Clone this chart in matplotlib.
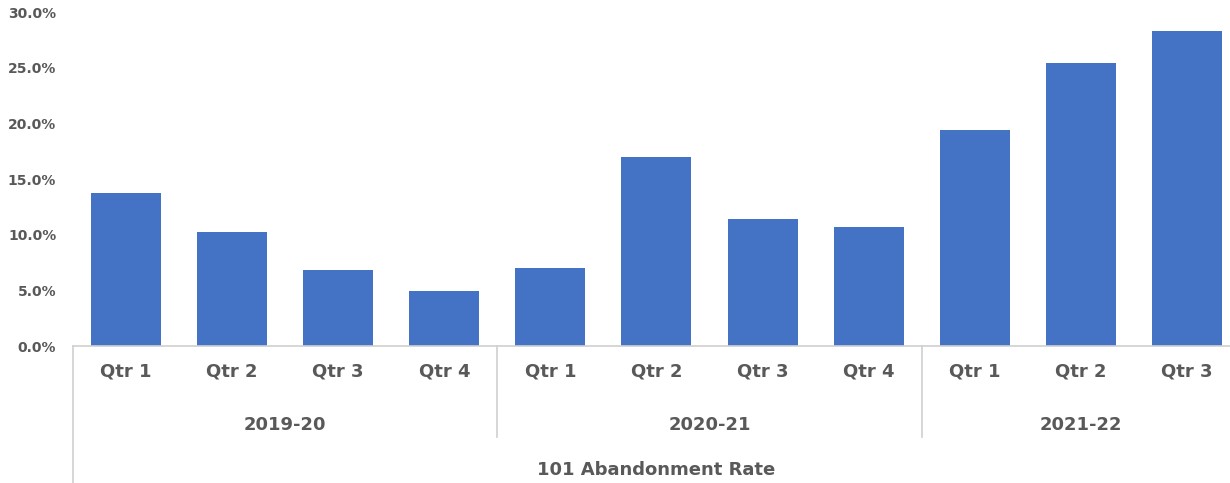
import matplotlib.pyplot as plt
import matplotlib.transforms as mtransforms
from matplotlib.ticker import FuncFormatter

# données
quarters = ["Qtr 1", "Qtr 2", "Qtr 3", "Qtr 4",
            "Qtr 1", "Qtr 2", "Qtr 3", "Qtr 4",
            "Qtr 1", "Qtr 2", "Qtr 3"]
years = ["2019-20", "2020-21", "2021-22"]
year_sizes = [4, 4, 3]
rates = [13.7, 10.2, 6.8, 4.9, 7.0, 17.0, 11.4, 10.7, 19.4, 25.4, 28.3]
title = "101 Abandonment Rate"

grey = "#595959"
line_col = "#d0d0d0"

fig = plt.figure(figsize=(12.3, 4.83), dpi=100)
ax = fig.add_axes([0.0593, 0.2836, 0.9488, 0.6915])

x = list(range(len(rates)))
ax.bar(x, rates, width=0.66, color="#4472C4")

ax.set_xlim(-0.5, len(rates) - 0.5)
ax.set_ylim(0, 30)
ax.set_yticks([0, 5, 10, 15, 20, 25, 30])
ax.yaxis.set_major_formatter(FuncFormatter(lambda v, p: f"{v:.1f}%"))
ax.tick_params(axis="y", length=0, pad=12, labelsize=10, labelcolor=grey)
for lab in ax.get_yticklabels():
    lab.set_fontweight("bold")

ax.set_xticks(x)
ax.set_xticklabels(quarters, fontsize=13, fontweight="bold", color=grey)
ax.tick_params(axis="x", length=0, pad=12)

for s in ["top", "right", "left"]:
    ax.spines[s].set_visible(False)
ax.spines["bottom"].set_color(line_col)
ax.spines["bottom"].set_linewidth(1.2)

trans = mtransforms.blended_transform_factory(ax.transData, ax.transAxes)

# lignes de séparation des années
ax.plot([-0.5, -0.5], [0, -0.41], color=line_col, lw=1.2, transform=trans, clip_on=False)
start = 0
for yr, n in zip(years, year_sizes):
    mid = start + (n - 1) / 2
    ax.text(mid, -0.235, yr, transform=trans, ha="center", va="center",
            fontsize=13, fontweight="bold", color=grey)
    if start + n < len(rates):
        b = start + n - 0.5
        ax.plot([b, b], [0, -0.272], color=line_col, lw=1.2, transform=trans, clip_on=False)
    start += n

ax.text((len(rates) - 1) / 2, -0.37, title, transform=trans, ha="center", va="center",
        fontsize=13, fontweight="bold", color=grey)

fig.savefig("out.png", dpi=100)
